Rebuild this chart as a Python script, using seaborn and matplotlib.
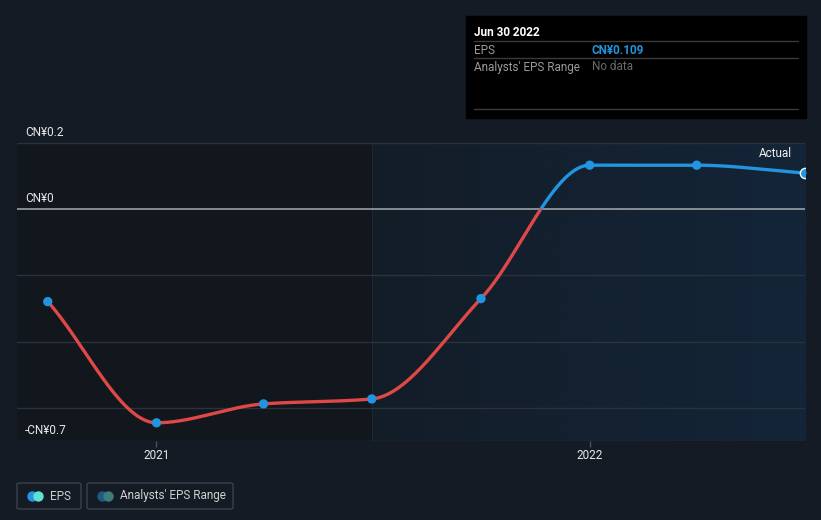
import numpy as np
import pandas as pd
import matplotlib
matplotlib.use("Agg")
import matplotlib.pyplot as plt
from matplotlib.patches import Rectangle, FancyBboxPatch
import seaborn as sns

sns.set_style("dark")
plt.rcParams['font.family'] = ['Roboto', 'DejaVu Sans']

# quarter ends as decimal years, EPS in CN¥
periods = [2020.748, 2020.999, 2021.246, 2021.496, 2021.748, 2021.999, 2022.246, 2022.496]
eps = [-0.279, -0.645, -0.588, -0.573, -0.270, 0.133, 0.133, 0.109]
year_ticks = [2020.999, 2021.999]
year_labels = ["2021", "2022"]
y_labels = {0.2: "CN¥0.2", 0.0: "CN¥0", -0.7: "-CN¥0.7"}

BG = "#151b25"
RED = "#e04848"
BLUE = "#2394df"
GRID = "#2b323c"


def monotone_curve(x, y, n=400):
    # Fritsch-Carlson monotone cubic, only used to draw the smooth line
    x = np.asarray(x, float)
    y = np.asarray(y, float)
    h = np.diff(x)
    d = np.diff(y) / h
    m = np.zeros_like(y)
    m[0], m[-1] = d[0], d[-1]
    for i in range(1, len(y) - 1):
        if d[i - 1] * d[i] <= 0:
            m[i] = 0
        else:
            w1 = 2 * h[i] + h[i - 1]
            w2 = h[i] + 2 * h[i - 1]
            m[i] = (w1 + w2) / (w1 / d[i - 1] + w2 / d[i])
    xs = np.linspace(x[0], x[-1], n)
    idx = np.clip(np.searchsorted(x, xs) - 1, 0, len(x) - 2)
    t = (xs - x[idx]) / h[idx]
    h00 = 2 * t**3 - 3 * t**2 + 1
    h10 = t**3 - 2 * t**2 + t
    h01 = -2 * t**3 + 3 * t**2
    h11 = t**3 - t**2
    ys = h00 * y[idx] + h10 * h[idx] * m[idx] + h01 * y[idx + 1] + h11 * h[idx] * m[idx + 1]
    return xs, ys


fig = plt.figure(figsize=(8.21, 5.2), dpi=100, facecolor=BG)
ax = fig.add_axes([17 / 821, 1 - 441 / 520, 788 / 821, 298 / 520])
ax.set_facecolor("#12161d")

x0, x1 = 2020.677, 2022.496
ax.set_xlim(x0, x1)
ax.set_ylim(-0.7, 0.2)

# past shaded zone, slightly brighter towards the right
grad = np.linspace(0, 1, 256).reshape(1, -1)
cmap = matplotlib.colors.LinearSegmentedColormap.from_list("zone", ["#131d28", "#132538"])
ax.imshow(grad, cmap=cmap, extent=[periods[3], x1, -0.7, 0.2], aspect="auto", zorder=0)
ax.axvline(periods[3], color="#182a3a", lw=0.8, zorder=1)

for g in [0.2, -0.2, -0.4, -0.6, -0.7]:
    ax.axhline(g, color=GRID, lw=1, zorder=1)
ax.axhline(0, color="#9aa0a6", lw=1.2, zorder=2)

xs, ys = monotone_curve(periods, eps)
line_red, = ax.plot(xs, ys, color=RED, lw=2.4, zorder=3, solid_capstyle="round")
line_blue, = ax.plot(xs, ys, color=BLUE, lw=2.4, zorder=3, solid_capstyle="round")
clip_neg = Rectangle((x0, -1), x1 - x0 + 1, 1, transform=ax.transData)
clip_pos = Rectangle((x0, 0), x1 - x0 + 1, 1, transform=ax.transData)
line_red.set_clip_path(clip_neg)
line_blue.set_clip_path(clip_pos)

df = pd.DataFrame({"period": periods[:-1], "eps": eps[:-1]})
sns.scatterplot(data=df, x="period", y="eps", color=BLUE, s=45, edgecolor="none",
                zorder=4, ax=ax, legend=False)
ax.scatter([periods[-1]], [eps[-1]], s=55, color=BLUE, edgecolor="white",
           linewidth=1.0, zorder=5, clip_on=True)
ax.set_xlim(x0, x1)
ax.set_ylim(-0.7, 0.2)

ax.set_xticks(year_ticks)
ax.set_xticklabels(year_labels)
ax.set_yticks([])
ax.tick_params(axis="x", bottom=True, colors="#4a515b", length=4, width=1,
               labelcolor="#e8e8e8", labelsize=8.5, pad=2)
for s in ax.spines.values():
    s.set_visible(False)
ax.set_xlabel("")
ax.set_ylabel("")

for v, lab in y_labels.items():
    ax.text(2020.695, v + 0.013, lab, color="#e8e8e8", fontsize=8.5, va="bottom", ha="left")

ax.text(2022.465, 0.167, "Actual", color="#f0f0f0", fontsize=8.5, ha="right", va="center")

# tooltip box
fig.patches.append(Rectangle((466 / 821, 1 - 118 / 520), 340 / 821, 102 / 520,
                             transform=fig.transFigure, color="black", zorder=0))
fig.text(474 / 821, 1 - 32 / 520, "Jun 30 2022", color="white", fontsize=8.5,
         fontweight="bold", va="center")
fig.text(474 / 821, 1 - 50 / 520, "EPS", color="#9a9a9a", fontsize=8.5, va="center")
fig.text(592 / 821, 1 - 50 / 520, "CN¥0.109", color=BLUE, fontsize=8.5,
         fontweight="bold", va="center")
fig.text(474 / 821, 1 - 67 / 520, "Analysts' EPS Range", color="#9a9a9a", fontsize=8.5,
         va="center")
fig.text(592 / 821, 1 - 67 / 520, "No data", color="#6a6a6a", fontsize=8.5, va="center")
for yy in [41, 58, 109]:
    fig.add_artist(plt.Line2D([474 / 821, 798 / 821], [1 - yy / 520] * 2,
                              color="#3a3a3a", lw=1, transform=fig.transFigure))

# legend
def legend_box(xl, xr, c1, c2, label):
    fig.patches.append(FancyBboxPatch((xl / 821, 1 - 509 / 520), (xr - xl) / 821, 26 / 520,
                                      boxstyle="round,pad=0,rounding_size=0.003",
                                      transform=fig.transFigure, facecolor="none",
                                      edgecolor="#3a414b", lw=1))
    fig.add_artist(plt.Line2D([(xl + 15) / 821], [1 - 496 / 520], marker="o", ms=7.5,
                              color=c1, mec="none", transform=fig.transFigure))
    fig.add_artist(plt.Line2D([(xl + 21) / 821], [1 - 496 / 520], marker="o", ms=7.5,
                              color=c2, mec="none", transform=fig.transFigure))
    fig.text((xl + 33) / 821, 1 - 496 / 520, label, color="#d0d0d0", fontsize=8.5,
             va="center")

legend_box(17, 81, BLUE, "#5fe0d0", "EPS")
legend_box(87, 233, "#1f5a85", "#3e7c78", "Analysts' EPS Range")

fig.savefig("out.png", dpi=100, facecolor=BG)
